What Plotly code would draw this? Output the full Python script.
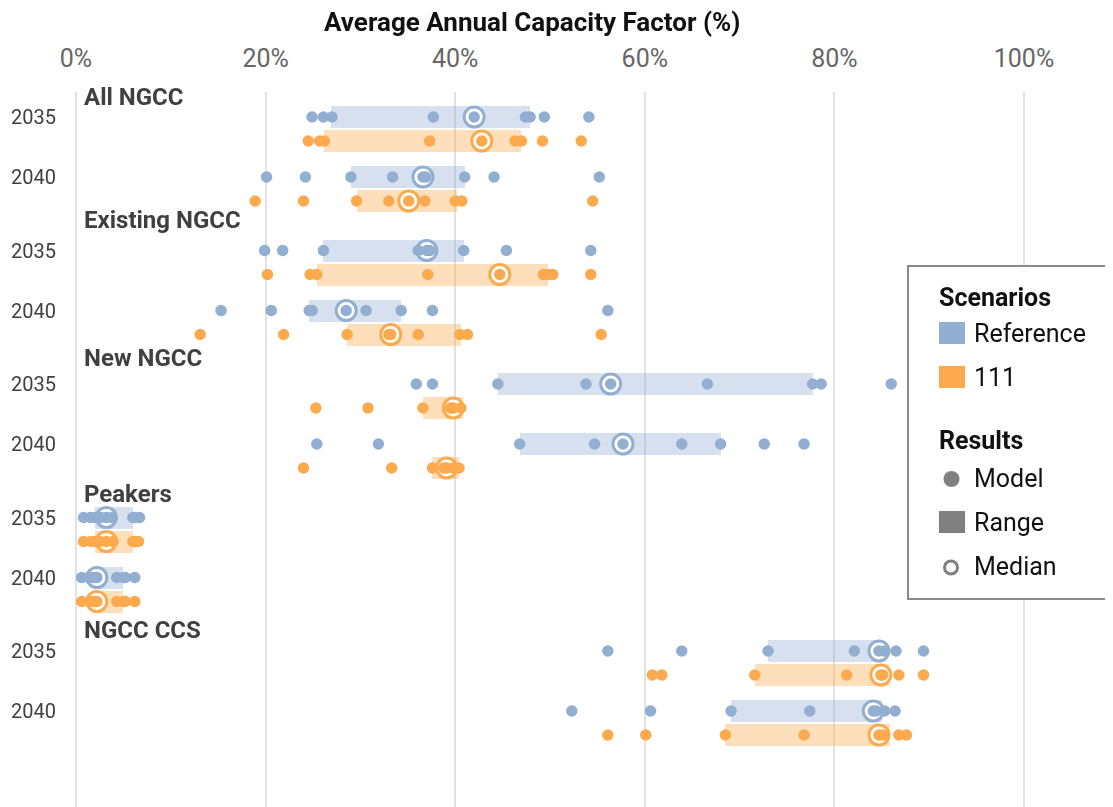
import plotly.graph_objects as go

# ---------------- data ----------------
groups = ["All NGCC", "Existing NGCC", "New NGCC", "Peakers", "NGCC CCS"]
years = ["2035", "2040"]
scenarios = ["Reference", "111"]
x_ticks = [0, 20, 40, 60, 80, 100]
x_tick_labels = ["0%", "20%", "40%", "60%", "80%", "100%"]

# model results per group, order: [2035 Reference, 2035 111, 2040 Reference, 2040 111]
all_ngcc_models = [
    [24.9, 26.1, 27.0, 37.7, 42.0, 47.4, 47.9, 49.4, 54.1],
    [24.5, 25.7, 26.2, 37.3, 42.8, 46.3, 47.0, 49.2, 53.3],
    [20.1, 24.2, 29.0, 33.4, 36.6, 36.9, 41.0, 44.1, 55.2],
    [18.9, 24.0, 29.6, 33.0, 35.1, 36.8, 40.0, 40.7, 54.5],
]
existing_ngcc_models = [
    [19.9, 21.8, 26.1, 36.1, 37.0, 37.3, 40.9, 45.4, 54.3],
    [20.2, 24.7, 25.4, 37.1, 44.7, 49.3, 49.8, 50.3, 54.3],
    [15.3, 20.6, 24.6, 24.9, 28.5, 30.6, 34.3, 37.6, 56.1],
    [13.1, 21.9, 28.6, 33.0, 33.2, 36.1, 40.5, 41.3, 55.4],
]
new_ngcc_models = [
    [35.9, 37.6, 44.5, 53.8, 56.4, 66.6, 77.7, 78.6, 86.0],
    [25.3, 30.8, 36.6, 39.5, 39.8, 40.6],
    [25.4, 31.9, 46.8, 54.7, 57.7, 63.9, 68.0, 72.6, 76.8],
    [24.0, 33.3, 37.6, 38.8, 39.1, 39.8, 40.4],
]
peakers_models = [
    [0.8, 1.5, 2.0, 2.6, 3.2, 3.8, 6.0, 6.2, 6.7],
    [0.8, 1.6, 2.0, 2.5, 3.2, 3.9, 6.0, 6.2, 6.6],
    [0.6, 1.3, 1.8, 2.0, 2.2, 4.3, 5.0, 5.2, 6.2],
    [0.6, 1.4, 1.8, 2.0, 2.2, 4.3, 5.0, 5.2, 6.2],
]
ngcc_ccs_models = [
    [56.1, 63.9, 73.0, 82.1, 84.7, 85.3, 86.5, 89.4],
    [60.8, 61.8, 71.6, 81.3, 84.9, 85.1, 86.8, 89.4],
    [52.3, 60.6, 69.1, 77.4, 84.1, 84.4, 85.3, 86.4],
    [56.1, 60.1, 68.5, 76.8, 84.7, 85.1, 86.8, 87.6],
]

range_low = [
    [26.9, 26.2, 29.0, 29.6],
    [26.1, 25.4, 24.6, 28.6],
    [44.5, 36.6, 46.8, 37.6],
    [2.0, 2.0, 1.8, 1.8],
    [73.0, 71.6, 69.1, 68.5],
]
range_high = [
    [47.9, 46.9, 41.0, 40.2],
    [40.9, 49.8, 34.3, 40.6],
    [77.7, 40.8, 68.0, 40.4],
    [6.0, 6.0, 5.0, 5.0],
    [84.9, 85.8, 85.0, 85.9],
]
medians = [
    [42.0, 42.8, 36.6, 35.1],
    [37.0, 44.7, 28.5, 33.2],
    [56.4, 39.8, 57.7, 39.1],
    [3.2, 3.2, 2.2, 2.2],
    [84.7, 84.9, 84.1, 84.7],
]
models = [all_ngcc_models, existing_ngcc_models, new_ngcc_models,
          peakers_models, ngcc_ccs_models]

# ---------------- layout / style ----------------
W, H = 1113, 807
OFF = 8                      # page body margin of the html page
PLOT_TOP = 92                # page pixel of plot top
M_TOP = PLOT_TOP - OFF
PAGE_BOTTOM = H + OFF
PX_PER_PCT = 9.48
ZERO_PX = 76
colors = {"Reference": "#92aed1", "111": "#fdaa4f"}
FONT = "Roboto"
GROUP_STEP, YEAR_STEP, SCEN_STEP, FIRST_ROW = 133.5, 60, 24, 117
header_offsets = [20, 31, 26, 24, 21]


def row_y(g, k, s):
    return FIRST_ROW + g * GROUP_STEP + k * YEAR_STEP + s * SCEN_STEP


def px_x(p):
    return (p - OFF) / W


def px_y(p):
    return (PAGE_BOTTOM - p) / (PAGE_BOTTOM - PLOT_TOP)


x_min = (OFF - ZERO_PX) / PX_PER_PCT
x_max = (OFF + W - ZERO_PX) / PX_PER_PCT

fig = go.Figure()

# range bars
for s, scen in enumerate(scenarios):
    ys, base, length = [], [], []
    for g in range(len(groups)):
        for k in range(len(years)):
            i = k * 2 + s
            ys.append(row_y(g, k, s))
            base.append(range_low[g][i])
            length.append(range_high[g][i] - range_low[g][i])
    fig.add_trace(go.Bar(
        x=length, base=base, y=ys, orientation="h", width=22,
        marker=dict(color=colors[scen], line=dict(width=0)),
        opacity=0.38, showlegend=False, hoverinfo="skip"))

# median rings
for s, scen in enumerate(scenarios):
    xs, ys = [], []
    for g in range(len(groups)):
        for k in range(len(years)):
            xs.append(medians[g][k * 2 + s])
            ys.append(row_y(g, k, s))
    fig.add_trace(go.Scatter(
        x=xs, y=ys, mode="markers", cliponaxis=False,
        marker=dict(symbol="circle", size=20, color="white",
                    line=dict(color=colors[scen], width=3)),
        showlegend=False, hoverinfo="skip"))

# model points
for s, scen in enumerate(scenarios):
    xs, ys = [], []
    for g in range(len(groups)):
        for k in range(len(years)):
            vals = models[g][k * 2 + s]
            xs += vals
            ys += [row_y(g, k, s)] * len(vals)
    fig.add_trace(go.Scatter(
        x=xs, y=ys, mode="markers", cliponaxis=False,
        marker=dict(symbol="circle", size=11.5, color=colors[scen],
                    line=dict(width=0)),
        showlegend=False, hoverinfo="skip"))

annotations = []
# year labels and group headers
for g, name in enumerate(groups):
    annotations.append(dict(
        x=0.6, y=row_y(g, 0, 0) - header_offsets[g], xref="x", yref="y",
        text="<b>%s</b>" % name, showarrow=False, xanchor="left",
        yanchor="middle", font=dict(family=FONT, size=24, color="#404040")))
    for k, yr in enumerate(years):
        annotations.append(dict(
            x=-1.9, y=row_y(g, k, 0), xref="x", yref="y", text=yr,
            showarrow=False, xanchor="right", yanchor="middle",
            font=dict(family=FONT, size=20, color="#404040")))

# title
annotations.append(dict(
    x=px_x(532), y=px_y(22), xref="paper", yref="paper",
    text="<b>Average Annual Capacity Factor (%)</b>", showarrow=False,
    xanchor="center", yanchor="middle",
    font=dict(family=FONT, size=26, color="#111111")))

# legend (drawn)
shapes = [dict(type="rect", xref="paper", yref="paper",
               x0=px_x(908), x1=px_x(1135), y0=px_y(266), y1=px_y(599),
               line=dict(color="#8a8a8a", width=2), fillcolor="white",
               layer="above")]
leg_font = dict(family=FONT, size=25, color="#111111")


def leg_text(txt, x, y, bold=False):
    annotations.append(dict(
        x=px_x(x), y=px_y(y), xref="paper", yref="paper",
        text=("<b>%s</b>" % txt) if bold else txt, showarrow=False,
        xanchor="left", yanchor="middle", font=leg_font))


def leg_rect(x0, x1, y0, y1, color):
    shapes.append(dict(type="rect", xref="paper", yref="paper",
                       x0=px_x(x0), x1=px_x(x1), y0=px_y(y1), y1=px_y(y0),
                       line=dict(width=0), fillcolor=color, layer="above"))


leg_text("Scenarios", 937, 297, bold=True)
leg_rect(939, 965, 322, 344, colors["Reference"])
leg_text("Reference", 972, 333)
leg_rect(939, 965, 366, 388, colors["111"])
leg_text("111", 972, 377)
leg_text("Results", 937, 441, bold=True)
shapes.append(dict(type="circle", xref="paper", yref="paper",
                   x0=px_x(943.5), x1=px_x(959.5), y0=px_y(487), y1=px_y(471),
                   line=dict(width=0), fillcolor="#808080", layer="above"))
leg_text("Model", 972, 478)
leg_rect(939, 965, 511, 533, "#808080")
leg_text("Range", 972, 522)
shapes.append(dict(type="circle", xref="paper", yref="paper",
                   x0=px_x(944.5), x1=px_x(957.5), y0=px_y(574), y1=px_y(561),
                   line=dict(width=3, color="#808080"), fillcolor="rgba(0,0,0,0)",
                   layer="above"))
leg_text("Median", 972, 566)

fig.update_layout(
    width=W, height=H,
    margin=dict(l=0, r=0, t=M_TOP, b=0, pad=0),
    paper_bgcolor="white", plot_bgcolor="white",
    barmode="overlay", bargap=0,
    font=dict(family=FONT),
    xaxis=dict(range=[x_min, x_max], side="top", tickvals=x_ticks,
               ticktext=x_tick_labels, showgrid=True, gridcolor="#e2e2e2",
               gridwidth=2, zeroline=False, showline=False, ticks="",
               ticklabelstandoff=19,
               tickfont=dict(family=FONT, size=25, color="#666666")),
    yaxis=dict(range=[PAGE_BOTTOM, PLOT_TOP], visible=False, showgrid=False,
               zeroline=False),
    annotations=annotations, shapes=shapes,
)

fig.write_html("out.html")
